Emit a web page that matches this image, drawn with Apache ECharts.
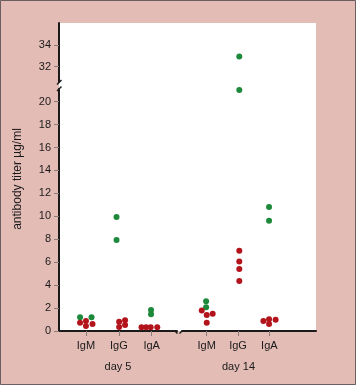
<!DOCTYPE html>
<html>
<head>
<meta charset="utf-8">
<script src="https://cdn.jsdelivr.net/npm/echarts@6/dist/echarts.min.js"></script>
<style>
html,body{margin:0;padding:0;background:#e3bcb6;}
#chart{width:356px;height:385px;}
</style>
</head>
<body>
<div id="chart"></div>
<script>
// ---- data ----
const categories = ['IgM', 'IgG', 'IgA'];
const dayLabels = ['day 5', 'day 14'];
const yTickLabelsLower = [0, 2, 4, 6, 8, 10, 12, 14, 16, 18, 20];
const yTickLabelsUpper = [32, 34];
const yAxisTitle = 'antibody titer µg/ml';
const yBreak = [21.1, 30.6];   // axis is cut between these values
const yTop = 36;
// points: [isotype position (1 IgM, 2 IgG, 3 IgA) incl. side-by-side offset, titer]
const day5Green = [[0.82, 1.2], [1.17, 1.2], [1.93, 9.94], [1.93, 7.93], [2.98, 1.84], [2.98, 1.46]];
const day5Red = [[0.82, 0.73], [1.0, 0.87], [1.0, 0.44], [1.2, 0.61],
  [2.01, 0.81], [2.01, 0.35], [2.19, 0.94], [2.19, 0.52],
  [2.69, 0.32], [2.83, 0.32], [2.97, 0.32], [3.17, 0.32]];
const day14Green = [[0.98, 2.6], [0.98, 2.07], [2.04, 32.94], [2.04, 21.02], [2.99, 10.82], [2.99, 9.62]];
const day14Red = [[0.84, 1.78], [1.0, 1.4], [1.19, 1.51], [1.0, 0.73],
  [2.04, 7.0], [2.04, 6.06], [2.04, 5.4], [2.04, 4.35],
  [2.81, 0.87], [2.99, 1.02], [2.99, 0.61], [3.2, 0.99]];

// ---- styling ----
const GREEN = '#1c8a3a', RED = '#b3141c', INK = '#1a1a1a', TICK = '#8a7b7b';
const FONT = '"Liberation Sans", Arial, sans-serif';
const xRange = [[0.18, 3.77], [0.21, 4.49]];
const gridDefs = [
  { left: 59, top: 23, width: 118, height: 59 },
  { left: 182, top: 23, width: 134, height: 59 },
  { left: 59, top: 89, width: 118, height: 242 },
  { left: 182, top: 89, width: 134, height: 242 }
];
const grid = gridDefs.map(g => Object.assign({ containLabel: false, show: false }, g));

const xAxis = [0, 1, 2, 3].map(i => {
  const day = i % 2, lower = i >= 2;
  const ax = {
    gridIndex: i, type: 'value', min: xRange[day][0], max: xRange[day][1],
    splitLine: { show: false }
  };
  if (!lower) { ax.show = false; return ax; }
  return Object.assign(ax, {
    axisLine: { show: true, onZero: false, lineStyle: { color: INK, width: 2 } },
    axisTick: { show: true, length: 5, customValues: [1, 2, 3], lineStyle: { color: TICK, width: 1 } },
    axisLabel: { show: true, customValues: [1, 2, 3], margin: 9, color: INK, fontSize: 11, fontFamily: FONT,
      formatter: v => categories[Math.round(v) - 1] || '' },
    name: dayLabels[day], nameLocation: 'middle', nameGap: 30,
    nameTextStyle: { color: INK, fontSize: 11, fontFamily: FONT, padding: day === 1 ? [0, 21, 0, 0] : 0 }
  });
});

const yAxis = [0, 1, 2, 3].map(i => {
  const lower = i >= 2, left = i % 2 === 0;
  const ax = {
    gridIndex: i, type: 'value',
    min: lower ? 0 : yBreak[1], max: lower ? yBreak[0] : yTop,
    splitLine: { show: false }
  };
  if (!left) { ax.show = false; return ax; }
  const ticks = lower ? yTickLabelsLower : yTickLabelsUpper;
  return Object.assign(ax, {
    axisLine: { show: true, onZero: false, lineStyle: { color: INK, width: 2 } },
    axisTick: { show: true, length: 5, customValues: ticks, lineStyle: { color: TICK, width: 1 } },
    axisLabel: { show: true, customValues: ticks, margin: 8, color: INK, fontSize: 11, fontFamily: FONT }
  });
});

const series = [];
[[day5Green, day5Red], [day14Green, day14Red]].forEach((sets, day) => {
  sets.forEach((pts, k) => {
    const color = k === 0 ? GREEN : RED;
    const lowerPts = pts.filter(p => p[1] <= yBreak[0]);
    const upperPts = pts.filter(p => p[1] >= yBreak[1]);
    [[lowerPts, 2 + day], [upperPts, day]].forEach(([data, gi]) => {
      if (!data.length) return;
      series.push({
        type: 'scatter', xAxisIndex: gi, yAxisIndex: gi, data: data,
        symbol: 'circle', symbolSize: 6, clip: false,
        itemStyle: { color: color, opacity: 1 }, silent: true
      });
    });
  });
});

const upper = gridDefs[0], lowerL = gridDefs[2], lowerR = gridDefs[3];
const yBot = lowerL.top + lowerL.height;
const graphic = [
  { type: 'rect', z: -10, silent: true,
    shape: { x: upper.left, y: upper.top, width: lowerR.left + lowerR.width - upper.left, height: yBot - upper.top },
    style: { fill: '#ffffff' } },
  { type: 'rect', z: 100, silent: true, shape: { x: 0.5, y: 0.5, width: 355, height: 384 },
    style: { fill: 'none', stroke: '#6a5f5f', lineWidth: 1 } },
  { type: 'text', z: 100, x: 18, y: 179, rotation: Math.PI / 2, silent: true,
    style: { text: yAxisTitle, fill: INK, font: '12px ' + FONT, align: 'center', verticalAlign: 'middle' } },
  // y-axis break marks
  { type: 'line', z: 100, silent: true, shape: { x1: 61.5, y1: 80, x2: 57, y2: 84.5 }, style: { stroke: INK, lineWidth: 1.5 } },
  { type: 'line', z: 100, silent: true, shape: { x1: 61.5, y1: 86.5, x2: 57, y2: 91 }, style: { stroke: INK, lineWidth: 1.5 } },
  // x-axis break marks
  { type: 'line', z: 100, silent: true, shape: { x1: 175, y1: 331, x2: 177.5, y2: 333.5 }, style: { stroke: INK, lineWidth: 1.5 } },
  { type: 'line', z: 100, silent: true, shape: { x1: 179.5, y1: 333.5, x2: 182, y2: 331 }, style: { stroke: INK, lineWidth: 1.5 } }
];

const chart = echarts.init(document.getElementById('chart'), null, { renderer: 'canvas' });
chart.setOption({
  backgroundColor: '#e3bcb6',
  animation: false,
  grid: grid, xAxis: xAxis, yAxis: yAxis, series: series, graphic: graphic
});
</script>
</body>
</html>
